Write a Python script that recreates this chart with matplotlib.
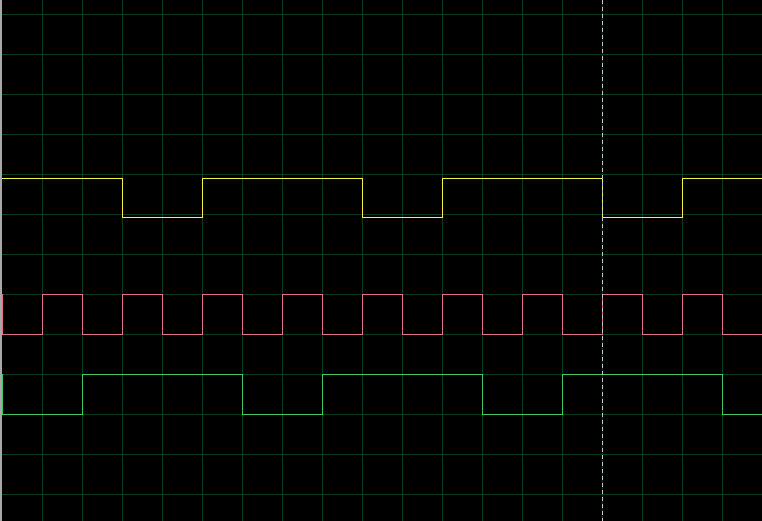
import matplotlib
matplotlib.use("Agg")
import matplotlib.pyplot as plt

# time axis in grid divisions, one edge per list entry
YELLOW_T = [-0.05, 3, 5, 9, 11, 15, 17, 19]
YELLOW_V = [1, 0, 1, 0, 1, 0, 1, 1]
PINK_T = [-0.05] + list(range(0, 20))
PINK_V = [1] + [0, 1] * 10
GREEN_T = [-0.05, 0, 2, 6, 8, 12, 14, 18, 19]
GREEN_V = [1, 0, 1, 0, 1, 0, 1, 0, 0]

# vertical level (grid rows from the top) of each trace: high, low
LEVELS = {"yellow": (4.1, 5.075), "pink": (7.0, 8.0), "green": (9.0, 10.0)}
COLORS = {"yellow": "#f6f44c", "pink": "#e2708e", "green": "#3ec86a"}
CURSOR_T = 15

BG = "#000000"
GRID = "#0e3c16"
PX = 0.72  # one pixel in points at dpi 100

fig = plt.figure(figsize=(7.62, 5.21), dpi=100, facecolor=BG)
ax = fig.add_axes([0, 0, 1, 1], facecolor=BG)
ax.set_xlim(-2 / 40, 760 / 40)
ax.set_ylim(507 / 40, -14 / 40)
ax.axis("off")

for t in range(1, 19):
    ax.axvline(t, color=GRID, lw=PX, antialiased=False, zorder=1)
for k in range(0, 13):
    ax.axhline(k, color=GRID, lw=PX, antialiased=False, zorder=1)

for name, (tt, vv) in {"yellow": (YELLOW_T, YELLOW_V), "pink": (PINK_T, PINK_V),
                       "green": (GREEN_T, GREEN_V)}.items():
    hi, lo = LEVELS[name]
    y = [hi if v else lo for v in vv]
    ax.step(tt, y, where="post", color=COLORS[name], lw=PX,
            antialiased=False, zorder=3)

ax.axvline(CURSOR_T, color="#c0cccc", lw=PX, ls=(0, (4, 3)),
           antialiased=False, zorder=4)
ax.axvline(-1 / 40, color="#a8a8a8", lw=2 * PX, antialiased=False, zorder=5)

fig.savefig("out.png", dpi=100, facecolor=BG)
